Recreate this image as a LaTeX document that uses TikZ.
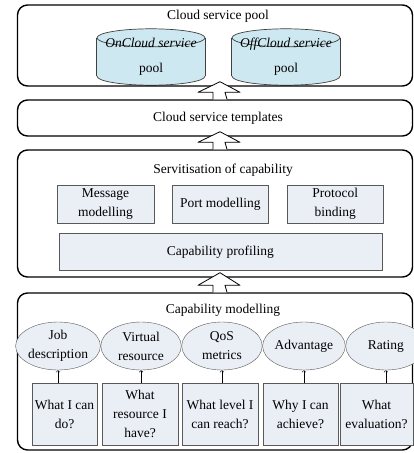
\documentclass[tikz,border=0pt]{standalone}
\usepackage{fontspec}
\setmainfont{Liberation Serif}
\usetikzlibrary{arrows,positioning,shapes.geometric,calc,backgrounds}

\definecolor{poolblue}{RGB}{205,232,241}
\definecolor{boxgrey}{RGB}{234,239,246}

\begin{document}
\begin{tikzpicture}[
    x=1pt,y=-1pt,
    font=\fontsize{13.5}{19}\selectfont,
    layer/.style={rectangle,rounded corners=10pt,draw,line width=1.4pt,minimum width=395pt,inner sep=0pt},
    poolbody/.style={rectangle,minimum width=108pt,minimum height=56pt,align=center,inner sep=0pt},
    poolline/.style={draw=black!75,line width=0.7pt},
    subbox/.style={rectangle,draw=black!65,fill=boxgrey,minimum width=96.5pt,minimum height=38pt,align=center,inner sep=1pt},
    facet/.style={ellipse,draw=black!65,fill=boxgrey,minimum width=80.5pt,minimum height=48pt,align=center,inner sep=0pt},
    query/.style={rectangle,draw=black!65,fill=boxgrey,minimum height=62pt,align=center,inner sep=1pt},
    blockarrow/.style={draw,fill=white,line width=0.8pt,line join=round}
]
\useasboundingbox (0,0) rectangle (414,453);

% Layers
\node[layer,minimum height=81pt] (pool) at (215,45.5) {};
\node[layer,minimum height=36pt] (tpl) at (215,118) {};
\node[layer,minimum height=127pt] (serv) at (215,213.5) {};
\node[layer,minimum height=157pt] (capmod) at (215,371.5) {};

% Titles
\node (pooltitle) at (218,16) {Cloud service pool};
\node (tpltitle) at (218,118) {Cloud service templates};
\node (servtitle) at (223,170) {Servitisation of capability};
\node (capmodtitle) at (223,310) {Capability modelling};

% Service pools
\node[poolbody] (oncloud) at (151,57) {\textit{OnCloud service}\\[6pt]pool};
\node[poolbody] (offcloud) at (286,57) {\textit{OffCloud service}\\[6pt]pool};
\begin{scope}[on background layer]
\foreach \p in {oncloud,offcloud} {
  \filldraw[poolline,fill=poolblue] ($(\p.south)+(0,-9)$) ellipse [x radius=54, y radius=9];
  \fill[poolblue] ($(\p.north west)+(0,9)$) rectangle ($(\p.south east)+(0,-9)$);
  \draw[poolline] ($(\p.north west)+(0,9)$) -- ($(\p.south west)+(0,-9)$);
  \draw[poolline] ($(\p.north east)+(0,9)$) -- ($(\p.south east)+(0,-9)$);
  \filldraw[poolline,fill=poolblue] ($(\p.north)+(0,9)$) ellipse [x radius=54, y radius=9];
}
\end{scope}

% Servitisation
\node[subbox] (msg) at (105.5,204) {Message\\modelling};
\node[subbox,right=18pt of msg] (port) {Port modelling};
\node[subbox,right=18pt of port] (proto) {Protocol\\binding};
\node[subbox,minimum width=323pt,minimum height=37pt,below=10pt of port] (profile) {Capability profiling};

% Capability facets
\node[facet] (job) at (58,346) {Job\\description};
\node[facet,right=0pt of job] (virt) {Virtual\\resource};
\node[facet,right=0pt of virt] (qos) {QoS\\metrics};
\node[facet,right=0pt of qos] (adv) {Advantage};
\node[facet,right=0pt of adv] (rate) {Rating};

% Questions
\node[query,minimum width=65pt] (q1) at (64.5,414) {What I can\\do?};
\node[query,minimum width=76pt] (q2) at (140,414) {What\\resource I\\have?};
\node[query,minimum width=76pt] (q3) at (220,414) {What level I\\can reach?};
\node[query,minimum width=75pt] (q4) at (300.5,414) {Why I can\\achieve?};
\node[query,minimum width=73pt] (q5) at (376.5,414) {What\\evaluation?};

% Small arrows
\foreach \q/\f in {q1/job,q2/virt,q3/qos,q4/adv,q5/rate}
  \draw[->,line width=0.6pt] (\f.south |- \q.north) -- (\f.south);

% Block arrows between layers
\foreach \lo/\up in {tpl/pool,serv/tpl,capmod/serv}
  \filldraw[blockarrow] ($(\lo.north)+(-2,0)$) -- ++(0,-7) -- ++(-15,0)
    -- ($(\up.south)+(5,-5)$) -- ($(\lo.north)+(25,-7)$) -- ++(-15,0)
    -- ($(\lo.north)+(12,0)$);

\end{tikzpicture}
\end{document}
